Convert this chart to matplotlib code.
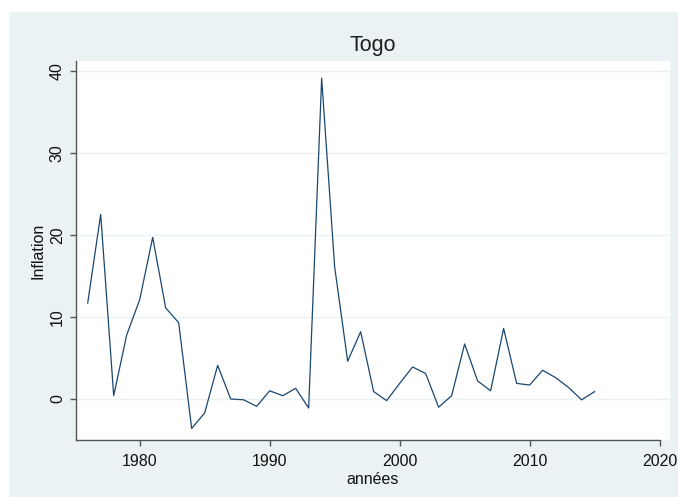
import matplotlib.pyplot as plt
from matplotlib.patches import Rectangle

# inflation in Togo
years = list(range(1976, 2016))
inflation = [11.7, 22.5, 0.4, 7.8, 12.1, 19.7, 11.1, 9.3, -3.6, -1.7,
             4.1, 0.0, -0.1, -0.9, 1.0, 0.4, 1.3, -1.1, 39.1, 16.1,
             4.6, 8.2, 0.9, -0.2, 1.9, 3.9, 3.1, -1.0, 0.4, 6.7,
             2.2, 1.0, 8.6, 1.9, 1.7, 3.5, 2.6, 1.4, -0.1, 0.9]

xticks = [1980, 1990, 2000, 2010, 2020]
yticks = [0, 10, 20, 30, 40]

plt.rcParams['font.family'] = ['Liberation Sans', 'DejaVu Sans']

W, H = 678, 497
fig = plt.figure(figsize=(W / 100, H / 100), dpi=100, facecolor='white')

# stata-like graph region, drawn behind the axes
fig.add_artist(Rectangle((9 / W, 0), (W - 9) / W, (H - 12) / H,
                         transform=fig.transFigure, facecolor='#EAF2F3',
                         edgecolor='none', zorder=-10))

ax = fig.add_axes([76 / W, (H - 440) / H, (670 - 76) / W, (440 - 61) / H])
ax.set_facecolor('white')

ax.plot(years, inflation, color='#1a476f', lw=0.9)

ax.set_xlim(1975.1, 2020.8)
ax.set_ylim(-5.0, 41.2)
ax.set_xticks(xticks)
ax.set_yticks(yticks)
ax.grid(axis='y', color='#EAF2F3', lw=1.0)
ax.set_axisbelow(True)

for s in ['top', 'right']:
    ax.spines[s].set_visible(False)
for s in ['left', 'bottom']:
    ax.spines[s].set_color('#555555')
    ax.spines[s].set_linewidth(1.0)
ax.spines['bottom'].set_bounds(1975.1, 2020)

ax.tick_params(axis='both', direction='out', length=4, width=1.0,
               color='#555555', labelsize=11.5, labelcolor='#111111')
ax.tick_params(axis='y', labelrotation=90, pad=4)
for lab in ax.get_yticklabels():
    lab.set_va('center')
ax.tick_params(axis='x', pad=6)

ax.set_title('Togo', fontsize=15.5, color='#1e1e1e', pad=7)
ax.set_ylabel('Inflation', fontsize=11.5, color='#111111', labelpad=3)
ax.set_xlabel('années', fontsize=11.5, color='#111111', labelpad=2)

fig.savefig('out.png', dpi=100, facecolor=fig.get_facecolor())
